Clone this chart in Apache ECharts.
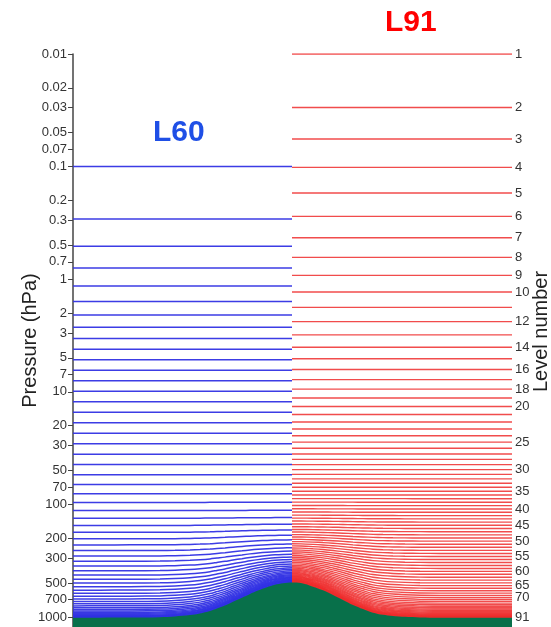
<!DOCTYPE html>
<html>
<head>
<meta charset="utf-8">
<script src="https://cdn.jsdelivr.net/npm/echarts@6/dist/echarts.min.js"></script>
<style>
html,body{margin:0;padding:0;background:#fff;}
#chart{width:551px;height:627px;}
</style>
</head>
<body>
<div id="chart"></div>
<script>
// ---------------- data ----------------
// reference surface pressure over flat ground (hPa)
const PS0 = 1013.25;

// horizontal distance samples and surface pressure of the terrain (hPa)
const xDist  = [0, 27, 57, 87, 102, 117, 127, 137, 144, 152, 160, 169, 177, 185, 194, 202, 210, 219,
                228, 240, 250, 260, 270, 280, 290, 300, 310, 320, 332, 347, 367, 439];
const psSurf = [1013.25, 1013, 1012, 1005, 990, 962, 930, 885, 840, 790, 731, 675, 625, 583, 545, 518, 502, 494,
                500, 538, 580, 638, 705, 782, 850, 916, 955, 979, 997, 1010, 1013.25, 1013.25];
const xSplit = 219;

// L60: full-level pressure over flat ground (hPa) and hybrid B coefficient
const pRef60 = [0.10, 0.292, 0.510, 0.796, 1.151, 1.575, 2.077, 2.666, 3.362, 4.193,
  5.201, 6.444, 7.984, 9.892, 12.257, 15.186, 18.815, 23.311, 28.882, 35.784,
  44.335, 54.624, 66.623, 80.397, 95.978, 113.42, 132.76, 154.00, 177.12, 202.09,
  228.84, 257.36, 287.64, 319.63, 353.23, 388.27, 424.57, 461.90, 500.00, 538.60,
  577.38, 616.05, 654.27, 691.75, 728.16, 763.21, 796.59, 828.05, 857.34, 884.27,
  908.65, 930.37, 949.35, 965.56, 979.06, 989.94, 998.38, 1004.64, 1009.06, 1012.05];
const bCoef60 = [0,0,0,0,0,0,0,0,0,0, 0,0,0,0,0,0,0,0,0,0, 0,0,0,0.00004,0.00027,0.00114,0.00345,0.00811,0.01591,0.02740,
  0.04291,0.06261,0.08660,0.11485,0.14720,0.18343,0.22320,0.26613,0.31174,0.35952,
  0.40893,0.45937,0.51024,0.56094,0.61086,0.65941,0.70603,0.75019,0.79143,0.82931,
  0.86352,0.89377,0.91991,0.94188,0.95973,0.97365,0.98397,0.99114,0.99582,0.99882];

// L91: full-level pressure over flat ground (hPa) and hybrid B coefficient
const pRef91 = [0.01, 0.0299, 0.0569, 0.1015, 0.1716, 0.2768, 0.4285, 0.6396, 0.9245, 1.2986,
  1.7782, 2.3800, 3.1209, 4.0176, 5.0861, 6.3417, 7.7988, 9.4706, 11.369, 13.504,
  15.884, 18.518, 21.410, 24.565, 27.986, 31.674, 35.628, 39.848, 44.331, 49.073,
  54.070, 59.315, 64.798, 70.506, 76.429, 82.573, 88.959, 95.617, 102.58, 109.89,
  117.59, 125.75, 134.40, 143.59, 153.35, 163.72, 174.72, 186.38, 198.76, 211.87,
  225.77, 240.48, 256.07, 272.56, 290.02, 308.48, 327.99, 348.62, 370.42, 393.44,
  417.73, 443.34, 470.17, 497.96, 526.46, 555.40, 584.49, 613.50, 642.29, 670.73,
  698.70, 726.07, 752.67, 778.40, 803.16, 826.81, 849.25, 870.38, 890.13, 908.44,
  925.22, 940.44, 954.09, 966.17, 976.67, 985.63, 993.14, 999.31, 1004.25, 1008.07, 1011.49];
const bCoef91 = [0,0,0,0,0,0,0,0,0,0, 0,0,0,0,0,0,0,0,0,0, 0,0,0,0,0,0,0,0,0,0, 0,0,0,0,0,
  0.00005,0.00014,0.00026,0.0005,0.0009,
  0.0015,0.0025,0.0038,0.0058,0.0080,0.0114,0.0150,0.0201,0.0258,0.0331,
  0.0411,0.0512,0.0619,0.0748,0.0882,0.1046,0.1226,0.1429,0.1653,0.1896,
  0.2154,0.2443,0.2754,0.3093,0.3438,0.3807,0.4182,0.4560,0.4946,0.5322,
  0.5700,0.6084,0.6448,0.6799,0.7148,0.7484,0.7808,0.8105,0.8380,0.8631,
  0.8865,0.9061,0.9258,0.9421,0.9565,0.9678,0.9781,0.9857,0.9905,0.9948,0.9980];

// tick labels
const pressureTicks = [0.01, 0.02, 0.03, 0.05, 0.07, 0.1, 0.2, 0.3, 0.5, 0.7, 1, 2, 3, 5, 7,
  10, 20, 30, 50, 70, 100, 200, 300, 500, 700, 1000];
const levelTicks = [1, 2, 3, 4, 5, 6, 7, 8, 9, 10, 12, 14, 16, 18, 20, 25, 30, 35, 40, 45,
  50, 55, 60, 65, 70, 91];

// ---------------- chart ----------------
const FONT = 'Liberation Sans, Arial, Helvetica, sans-serif';
const Y_MIN = 0.01, Y_MAX = 1227;

function levelSeries(pRef, bCoef, fromX, toX, color, width, name) {
  const out = [];
  for (let k = 0; k < pRef.length; k++) {
    const data = [];
    for (let i = 0; i < xDist.length; i++) {
      if (xDist[i] < fromX || xDist[i] > toX) continue;
      data.push([xDist[i], pRef[k] + bCoef[k] * (psSurf[i] - PS0)]);
    }
    out.push({
      type: 'line', name: name, data: data, yAxisIndex: 0,
      showSymbol: false, symbol: 'none', smooth: 0.3, silent: true,
      lineStyle: { color: color, width: width }, z: 2
    });
  }
  return out;
}

const series = []
  .concat(levelSeries(pRef60, bCoef60, 0, xSplit, 'rgba(50,50,228,0.95)', 1.5, 'L60'))
  .concat(levelSeries(pRef91, bCoef91, xSplit, 439, 'rgba(238,45,45,0.85)', 1.4, 'L91'));

series.push({
  type: 'line', name: 'terrain', yAxisIndex: 0,
  data: xDist.map((x, i) => [x, psSurf[i]]),
  showSymbol: false, symbol: 'none', smooth: 0.3, silent: true,
  lineStyle: { width: 0 },
  areaStyle: { color: '#08704a', opacity: 1, origin: 'end' },
  z: 5
});

const chart = echarts.init(document.getElementById('chart'), null, { renderer: 'canvas' });
chart.setOption({
  animation: false,
  backgroundColor: '#ffffff',
  textStyle: { fontFamily: FONT },
  title: [
    { text: 'L60', left: 153, top: 118, padding: 0,
      textStyle: { color: '#1f4fe6', fontSize: 30, fontWeight: 'bold', fontFamily: FONT } },
    { text: 'L91', left: 385, top: 8, padding: 0,
      textStyle: { color: '#ff0000', fontSize: 30, fontWeight: 'bold', fontFamily: FONT } }
  ],
  grid: { left: 73, right: 39, top: 54, bottom: 0, containLabel: false, outerBoundsMode: 'none' },
  xAxis: { type: 'value', min: 0, max: 439, show: false },
  yAxis: [
    {
      type: 'log', logBase: 10, inverse: true, min: Y_MIN, max: Y_MAX, position: 'left',
      name: 'Pressure (hPa)', nameLocation: 'middle', nameRotate: 90, nameGap: 33,
      nameMoveOverlap: false,
      nameTextStyle: { fontSize: 20, color: '#222', fontFamily: FONT },
      axisLine: { show: true, lineStyle: { color: '#444', width: 1.5 } },
      axisTick: { show: true, length: 5, customValues: pressureTicks, lineStyle: { color: '#444' } },
      axisLabel: { show: true, customValues: pressureTicks, margin: 6, fontSize: 13, color: '#333',
        fontFamily: FONT, formatter: v => String(+v.toPrecision(3)) },
      splitLine: { show: false }, minorTick: { show: false }
    },
    {
      type: 'log', logBase: 10, inverse: true, min: Y_MIN, max: Y_MAX, position: 'right',
      name: 'Level number', nameLocation: 'middle', nameRotate: 90, nameGap: 19,
      nameMoveOverlap: false,
      nameTextStyle: { fontSize: 20, color: '#222', fontFamily: FONT, padding: [0, 0, 0, 18] },
      axisLine: { show: false }, axisTick: { show: false },
      axisLabel: {
        show: true, margin: 3, fontSize: 13, color: '#333', fontFamily: FONT,
        customValues: levelTicks.map(k => pRef91[k - 1]),
        formatter: v => {
          let best = 0, bd = Infinity;
          for (let k = 0; k < pRef91.length; k++) {
            const d = Math.abs(Math.log(pRef91[k]) - Math.log(v));
            if (d < bd) { bd = d; best = k; }
          }
          return String(best + 1);
        }
      },
      splitLine: { show: false }
    }
  ],
  series: series
});
</script>
</body>
</html>
